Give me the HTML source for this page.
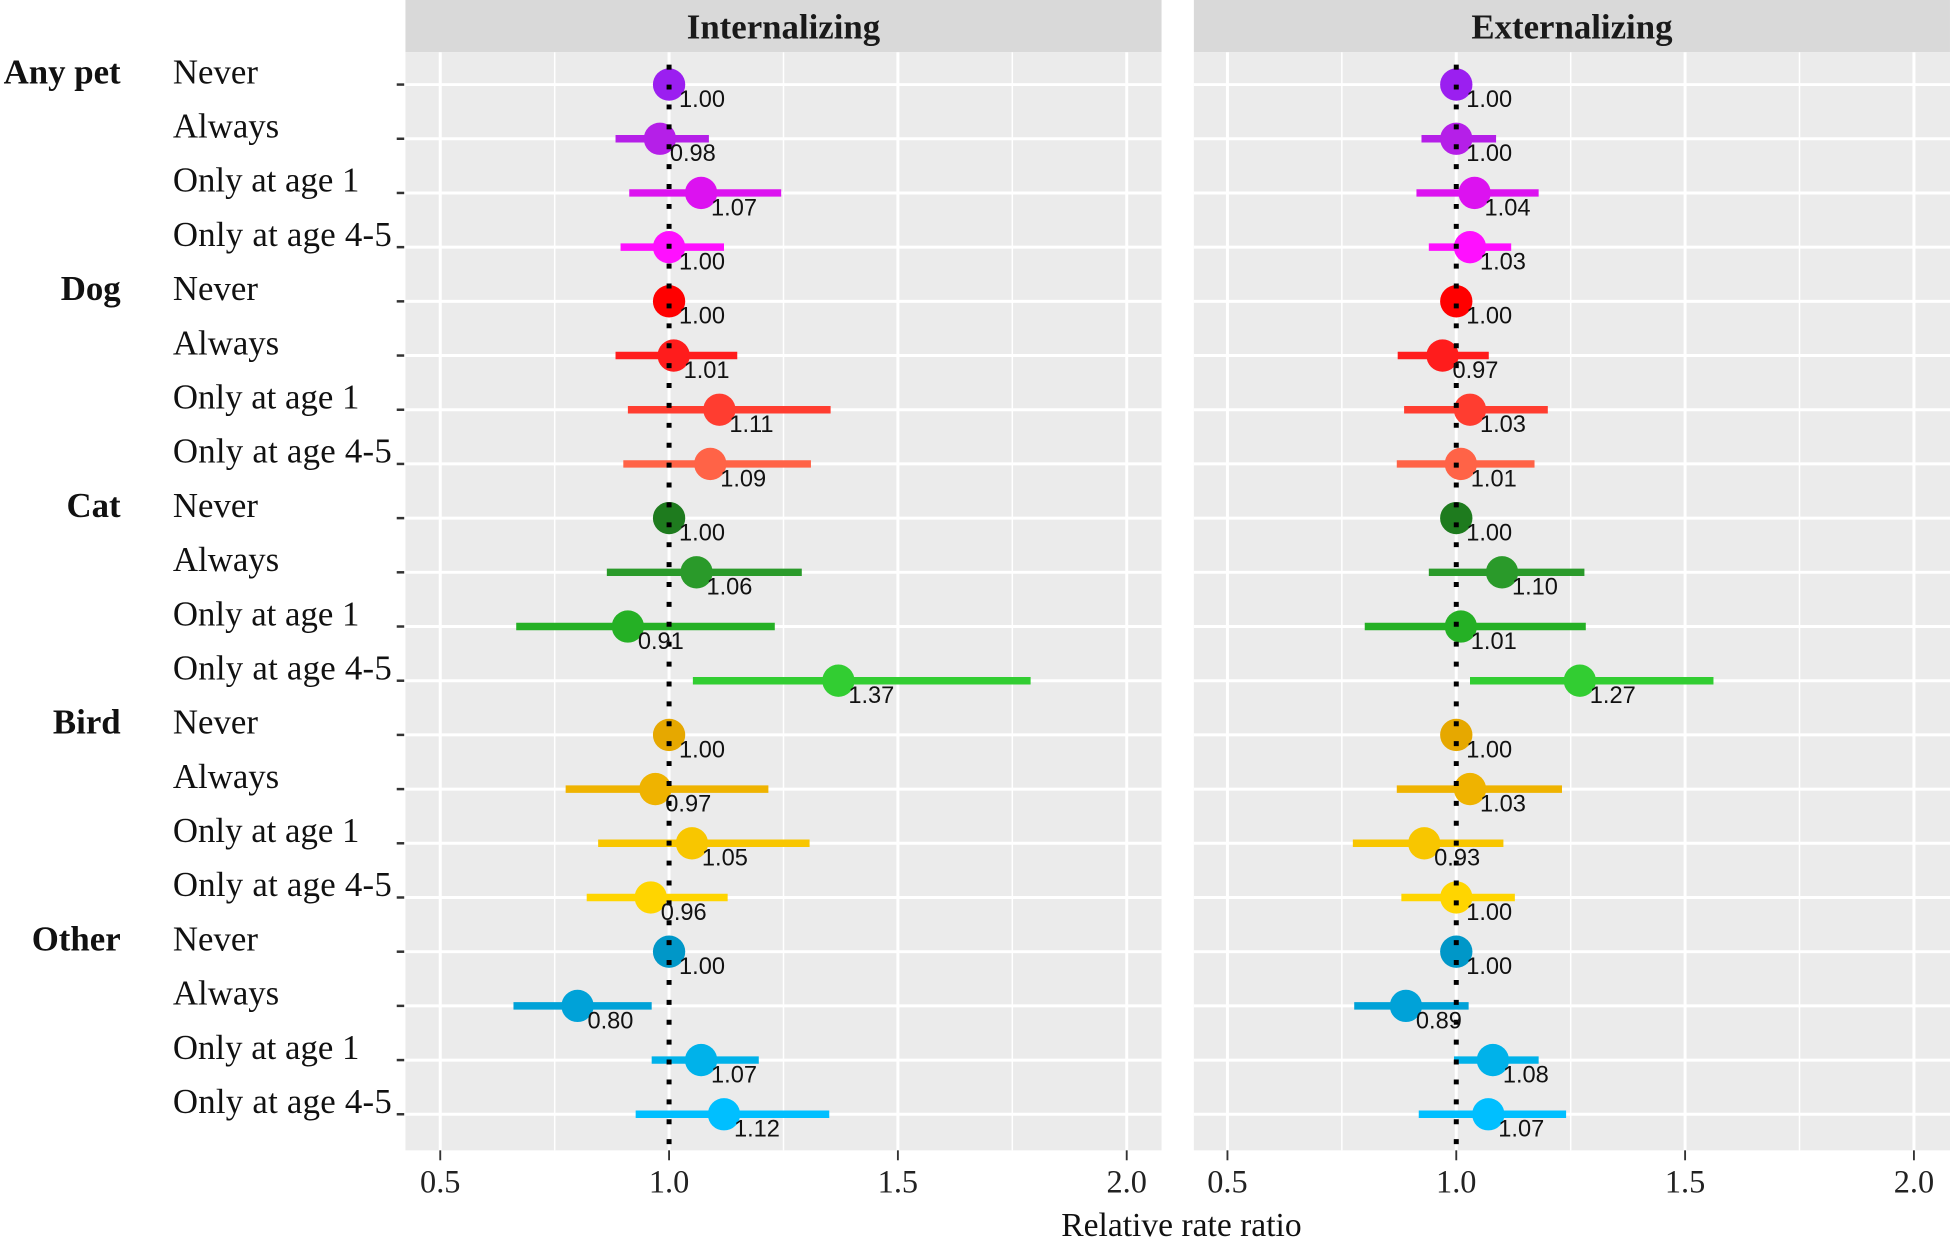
<!DOCTYPE html>
<html><head><meta charset="utf-8"><style>
html,body{margin:0;padding:0;background:#fff;}
svg{display:block;}
.ser{font-family:"Liberation Serif",serif;}
.san{font-family:"Liberation Sans",sans-serif;}
</style></head><body>
<svg id="chart" width="1950" height="1239" viewBox="0 0 1568 996.3" xmlns="http://www.w3.org/2000/svg"></svg>
<script>
const groups = ["Any pet","Dog","Cat","Bird","Other"];
const levels = ["Never","Always","Only at age 1","Only at age 4-5"];
const panels = ["Internalizing","Externalizing"];
const intEst = [1.00,0.98,1.07,1.00, 1.00,1.01,1.11,1.09, 1.00,1.06,0.91,1.37, 1.00,0.97,1.05,0.96, 1.00,0.80,1.07,1.12];
const intLo  = [1.00,0.883,0.913,0.894, 1.00,0.883,0.91,0.90, 1.00,0.864,0.666,1.052, 1.00,0.774,0.845,0.82, 1.00,0.66,0.962,0.927];
const intHi  = [1.00,1.087,1.245,1.12, 1.00,1.149,1.353,1.31, 1.00,1.29,1.231,1.79, 1.00,1.217,1.307,1.128, 1.00,0.962,1.196,1.35];
const extEst = [1.00,1.00,1.04,1.03, 1.00,0.97,1.03,1.01, 1.00,1.10,1.01,1.27, 1.00,1.03,0.93,1.00, 1.00,0.89,1.08,1.07];
const extLo  = [1.00,0.924,0.913,0.94, 1.00,0.872,0.886,0.87, 1.00,0.94,0.80,1.03, 1.00,0.87,0.774,0.88, 1.00,0.777,0.995,0.918];
const extHi  = [1.00,1.087,1.18,1.12, 1.00,1.071,1.2,1.171, 1.00,1.28,1.283,1.562, 1.00,1.231,1.103,1.128, 1.00,1.027,1.18,1.24];
const xTicks = [0.5,1.0,1.5,2.0];
const xMinor = [0.75,1.25,1.75];
const rowColors = ["#9b1ff0","#b51fe8","#dc12f0","#ff10ff","#ff0000","#ff1c1c","#ff3d30","#ff6347","#1e7b1e","#2a9a2a","#25b025","#32cd32","#e6a800","#efb300","#f8c600","#ffd500","#0097c8","#00a2d8","#00b2ea","#00bfff"];

const svg = document.getElementById('chart');
const NS = "http://www.w3.org/2000/svg";
function mk(tag, attrs, parent){const e=document.createElementNS(NS,tag);for(const k in attrs)e.setAttribute(k,attrs[k]);(parent||svg).appendChild(e);return e;}
const panelX = [326, 960], panelW = 608, plotTop = 42, plotBot = 925;
const origin0 = [354, 987], pxPerUnit = 368;
function xScale(p, v){return origin0[p] + (v-0.5)*pxPerUnit;}
function yScale(i){return 68 + i*(896-68)/19;}
const est=[intEst,extEst], lo=[intLo,extLo], hi=[intHi,extHi];

for(let p=0;p<2;p++){
  const g = mk('g',{});
  
  
  const strip = mk('rect',{x:panelX[p],y:0,width:panelW,height:plotTop,fill:'#d9d9d9'},g);
  
  
  const st = mk('text',{x:panelX[p]+panelW/2,y:31,'text-anchor':'middle','font-size':28,'font-weight':'bold',class:'ser',fill:'#1a1a1a'},g);
  st.textContent = panels[p];
  
  
  const bg = mk('rect',{x:panelX[p],y:plotTop,width:panelW,height:plotBot-plotTop,fill:'#ebebeb'},g);
  
  
  xMinor.forEach(v=>{const l=mk('line',{x1:xScale(p,v),x2:xScale(p,v),y1:plotTop,y2:plotBot,stroke:'#fff','stroke-width':1.2},g);
    });
  xTicks.forEach(v=>{const l=mk('line',{x1:xScale(p,v),x2:xScale(p,v),y1:plotTop,y2:plotBot,stroke:'#fff','stroke-width':2.4},g);
    
    const t=mk('line',{x1:xScale(p,v),x2:xScale(p,v),y1:plotBot,y2:plotBot+8,stroke:'#333','stroke-width':1.5},g);
    
    const tl=mk('text',{x:xScale(p,v),y:959,'text-anchor':'middle','font-size':26,class:'ser',fill:'#222'},g);
    tl.textContent=v.toFixed(1);
    });
  for(let i=0;i<20;i++){const l=mk('line',{x1:panelX[p],x2:panelX[p]+panelW,y1:yScale(i),y2:yScale(i),stroke:'#fff','stroke-width':2.4},g);
    }
  for(let i=0;i<20;i++){
    const y=yScale(i);
    const bar=mk('line',{x1:xScale(p,lo[p][i]),x2:xScale(p,hi[p][i]),y1:y,y2:y,stroke:rowColors[i],'stroke-width':6},g);
    
    const c=mk('circle',{cx:xScale(p,est[p][i]),cy:y,r:13,fill:rowColors[i]},g);
    
  }
  const ref=mk('line',{x1:xScale(p,1),x2:xScale(p,1),y1:plotTop+10,y2:plotBot,stroke:'#000','stroke-width':4,'stroke-dasharray':'4 12'},g);
  
  for(let i=0;i<20;i++){
    const t=mk('text',{x:xScale(p,est[p][i])+8,y:yScale(i)+18,'font-size':19,class:'san',fill:'#111'},g);
    t.textContent=est[p][i].toFixed(2);
    
  }
}
for(let i=0;i<20;i++){
  const y=yScale(i);
  const tk=mk('line',{x1:319,x2:325,y1:y,y2:y,stroke:'#333','stroke-width':2});
  
  const t=mk('text',{x:139,y:y-1,'font-size':28,class:'ser',fill:'#111',textLength:(i%4>=2? (i%4===3?176:150):null)});
  if(i%4<2) t.removeAttribute('textLength');
  t.textContent=levels[i%4];
  
  if(i%4===0){
    const gl=mk('text',{x:97,y:y-1,'text-anchor':'end','font-size':28,'font-weight':'bold',class:'ser',fill:'#111'});
    gl.textContent=groups[i/4];
    
  }
}
const xt=mk('text',{x:950,y:994,'text-anchor':'middle','font-size':27,class:'ser',fill:'#111'});
xt.textContent='Relative rate ratio';


</script>
</body></html>
